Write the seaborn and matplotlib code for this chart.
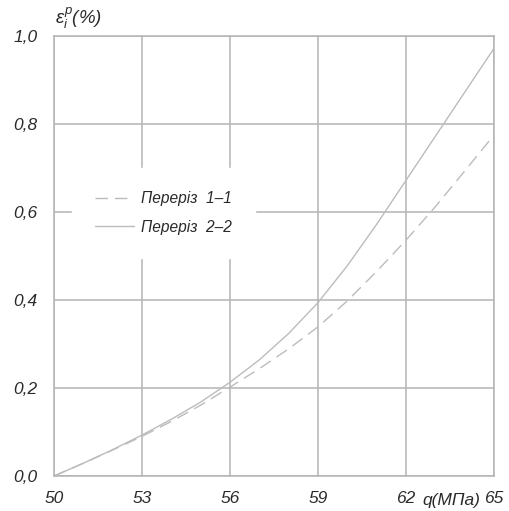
import matplotlib
matplotlib.use("Agg")
import matplotlib.pyplot as plt
import seaborn as sns
import pandas as pd
from matplotlib.ticker import FuncFormatter

q = [50, 51, 52, 53, 54, 55, 56, 57, 58, 59, 60, 61, 62, 63, 64, 65]
eps_1_1 = [0.0, 0.029, 0.059, 0.09, 0.124, 0.161, 0.202, 0.244, 0.289, 0.339,
           0.398, 0.465, 0.536, 0.612, 0.693, 0.775]
eps_2_2 = [0.0, 0.029, 0.06, 0.093, 0.129, 0.168, 0.213, 0.264, 0.324, 0.394,
           0.478, 0.572, 0.672, 0.772, 0.872, 0.972]
label_1 = "Переріз  1–1"
label_2 = "Переріз  2–2"
x_ticks = [50, 53, 56, 59, 62, 65]
y_ticks = [0.0, 0.2, 0.4, 0.6, 0.8, 1.0]

sns.set_theme(style="white")
plt.rcParams['font.family'] = ['Liberation Sans', 'DejaVu Sans']
plt.rcParams['mathtext.fontset'] = 'custom'
plt.rcParams['mathtext.it'] = 'Liberation Sans:italic'
plt.rcParams['mathtext.rm'] = 'Liberation Sans'

text_col = "#2a2a2a"
fig = plt.figure(figsize=(5.10, 5.11), dpi=100)
ax = fig.add_axes([54/510, 35/511, 440/510, 440/511])

df1 = pd.DataFrame({"q": q, "eps": eps_1_1})
df2 = pd.DataFrame({"q": q, "eps": eps_2_2})
line_col = "#bcbcbc"
sns.lineplot(data=df1, x="q", y="eps", ax=ax, color=line_col, lw=1.0,
             label=label_1)
ax.lines[-1].set_dashes((9, 5))
sns.lineplot(data=df2, x="q", y="eps", ax=ax, color=line_col, lw=1.0,
             label=label_2)

ax.set_xlim(50, 65)
ax.set_ylim(0, 1.0)
ax.set_xticks(x_ticks)
ax.set_yticks(y_ticks)
ax.yaxis.set_major_formatter(FuncFormatter(lambda v, p: f"{v:.1f}".replace(".", ",")))
ax.grid(True, color="#b4b4b4", lw=1.1)
for s in ax.spines.values():
    s.set_color("#b4b4b4")
    s.set_linewidth(1.1)
ax.tick_params(axis="both", length=0, labelsize=12.5, labelcolor=text_col)
ax.tick_params(axis="x", pad=11)
ax.tick_params(axis="y", pad=12)
for t in ax.get_xticklabels() + ax.get_yticklabels():
    t.set_fontstyle("italic")
ax.set_xlabel("")
ax.set_ylabel("")

fig.text(451/510, 1 - 500/511, "q(МПа)", ha="center", va="center",
         fontsize=12.5, style="italic", color=text_col)
fig.text(55/510, 1 - 18/511, r"$\varepsilon_i^p$(%)", ha="left", va="center",
         fontsize=13.5, style="italic", color=text_col)

leg = ax.legend(loc="upper left", bbox_to_anchor=((72-54)/440, (476-168)/440),
                borderaxespad=0, frameon=True, fontsize=11.2, handlelength=2.5,
                handletextpad=0.45, borderpad=1.5, labelspacing=0.85)
leg.get_frame().set_facecolor("white")
leg.get_frame().set_edgecolor("white")
leg.get_frame().set_alpha(1)
leg.get_frame().set_boxstyle("square", pad=0)
for t in leg.get_texts():
    t.set_fontstyle("italic")
    t.set_color(text_col)

fig.savefig("out.png", dpi=100)
